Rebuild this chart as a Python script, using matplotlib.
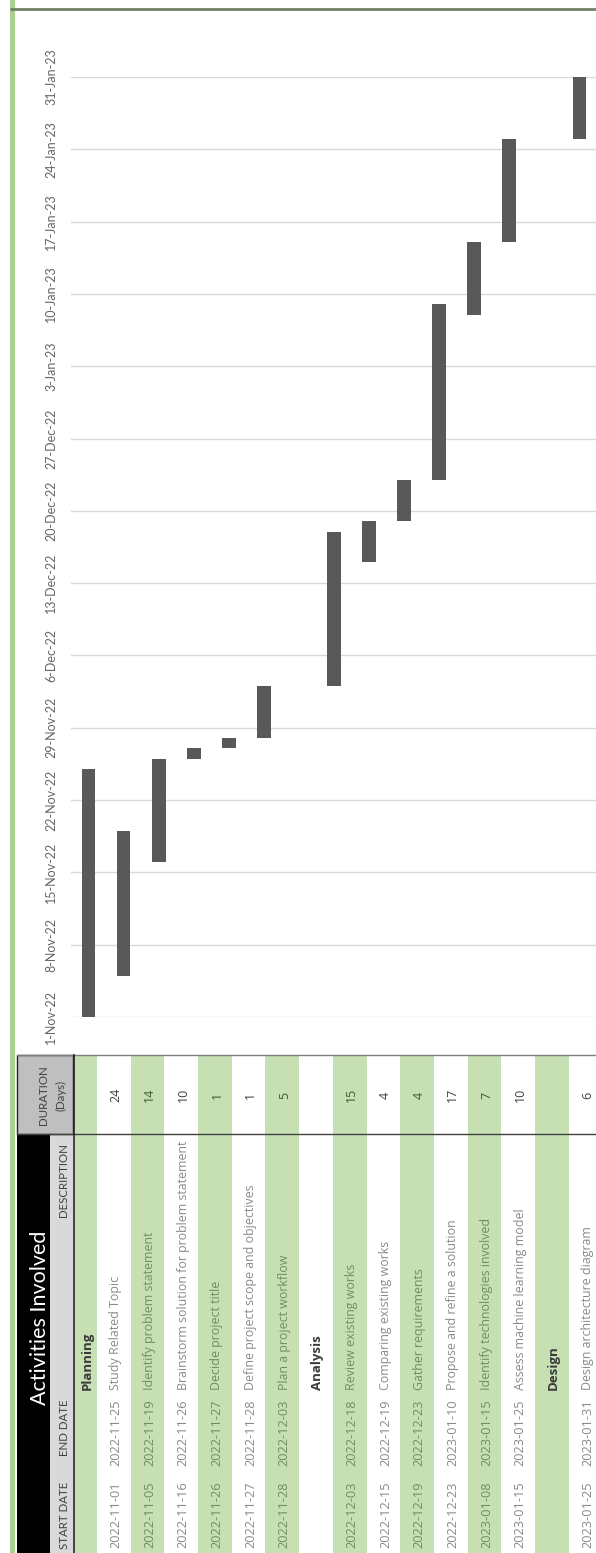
import datetime as dt
import matplotlib
matplotlib.use("Agg")
import matplotlib.pyplot as plt
import matplotlib.dates as mdates
from matplotlib.patches import Rectangle

# table rows (section rows carry no dates)
row_labels = ["Planning", "Study Related Topic", "Identify problem statement",
              "Brainstorm solution for problem statement", "Decide project title",
              "Define project scope and objectives", "Plan a project workflow",
              "Analysis", "Review existing works", "Comparing existing works",
              "Gather requirements", "Propose and refine a solution",
              "Identify technologies involved", "Assess machine learning model",
              "Design", "Design architecture diagram"]
start_dates = [None, "2022-11-01", "2022-11-05", "2022-11-16", "2022-11-26", "2022-11-27",
               "2022-11-28", None, "2022-12-03", "2022-12-15", "2022-12-19", "2022-12-23",
               "2023-01-08", "2023-01-15", None, "2023-01-25"]
end_dates = [None, "2022-11-25", "2022-11-19", "2022-11-26", "2022-11-27", "2022-11-28",
             "2022-12-03", None, "2022-12-18", "2022-12-19", "2022-12-23", "2023-01-10",
             "2023-01-15", "2023-01-25", None, "2023-01-31"]
durations = [None, 24, 14, 10, 1, 1, 5, None, 15, 4, 4, 17, 7, 10, None, 6]
section_rows = ["Planning", "Analysis", "Design"]

tick_labels = ["1-Nov-22", "8-Nov-22", "15-Nov-22", "22-Nov-22", "29-Nov-22", "6-Dec-22",
               "13-Dec-22", "20-Dec-22", "27-Dec-22", "3-Jan-23", "10-Jan-23", "17-Jan-23",
               "24-Jan-23", "31-Jan-23"]

GREEN = "#c6e0b4"
W, H = 596, 1553

fig = plt.figure(figsize=(W / 100, H / 100), dpi=100)
fig.patch.set_facecolor("white")

# background / table layer in pixel coordinates
bg = fig.add_axes([0, 0, 1, 1])
bg.set_xlim(0, W)
bg.set_ylim(H, 0)
bg.axis("off")

bg.add_patch(Rectangle((10, 0), 5, H, color="#a9d08e", lw=0))
bg.plot([10, W], [9, 9], color="#6e8268", lw=2.0, solid_capstyle="butt")

# table rows
x0 = 75
widths = [22] + [33.7] * (len(row_labels) - 1)
y_top, y_dur = 1055, 1134
edges = [x0]
for w in widths:
    edges.append(edges[-1] + w)

for i, label in enumerate(row_labels):
    xa, xb = edges[i], edges[i + 1]
    xc = (xa + xb) / 2
    green = i % 2 == 0
    if green:
        bg.add_patch(Rectangle((xa, y_top), xb - xa, H - y_top, color=GREEN, lw=0))
    txt = "#6f8f5f" if green else "#8a8a8a"
    num = "#3d5a2f" if green else "#404040"
    if label in section_rows:
        bg.text(xc + 1, 1390, label, rotation=90, ha="center", va="bottom",
                fontsize=9.5, fontweight="bold", color="#3a3a3a", family="Open Sans")
        continue
    bg.text(xc + 2, 1515, start_dates[i], rotation=90, ha="center", va="center",
            fontsize=9.2, color=txt, family="Open Sans")
    bg.text(xc + 2, 1433, end_dates[i], rotation=90, ha="center", va="center",
            fontsize=9.2, color=txt, family="Open Sans")
    bg.text(xc + 2, 1390, label, rotation=90, ha="center", va="bottom",
            fontsize=8.9, color=txt, family="Open Sans")
    bg.text(xc + 2, 1095, str(durations[i]), rotation=90, ha="center", va="center",
            fontsize=9, color=num, family="Open Sans")

# header block
bg.add_patch(Rectangle((17, y_dur), 33, H - y_dur, color="black", lw=0))
bg.add_patch(Rectangle((50, y_dur), 23, H - y_dur, color="#d9d9d9", lw=0))
bg.add_patch(Rectangle((17, y_top), 56, y_dur - y_top, facecolor="#bfbfbf",
                       edgecolor="#222222", lw=1.0))
bg.plot([17, W], [y_top, y_top], color="#7f7f7f", lw=1.0)
bg.plot([17, W], [y_dur, y_dur], color="#404040", lw=1.0)
bg.plot([73.5, 73.5], [y_top, H], color="#222222", lw=1.2)

bg.text(40, 1318, "Activities Involved", rotation=90, ha="center", va="center",
        fontsize=15.5, color="white", family="Lato")
hdr = dict(rotation=90, ha="center", fontsize=8.3, color="#404040", family="Lato")
bg.text(64, 1515, "START DATE", va="center", **hdr)
bg.text(64, 1428, "END DATE", va="center", **hdr)
bg.text(64, 1143, "DESCRIPTION", va="top", **hdr)
bg.text(44, 1095, "DURATION", va="center", **hdr)
bg.text(61, 1095, "(Days)", va="center", **hdr)

# gantt chart
ax = fig.add_axes([71 / W, (H - 1017) / H, (W + 1 - 71) / W, (1017 - 77) / H])
ax.patch.set_alpha(0)
tick_dates = [dt.datetime.strptime(t, "%d-%b-%y") for t in tick_labels]
tick_nums = mdates.date2num(tick_dates)

for i in range(1, len(row_labels)):
    if durations[i] is None:
        continue
    s = mdates.date2num(dt.datetime.strptime(start_dates[i], "%Y-%m-%d"))
    ax.bar(i - 1, durations[i], bottom=s, width=0.39, color="#595959", zorder=3)

ax.set_xlim(-0.5, len(row_labels) - 1.5)
ax.set_ylim(tick_nums[0], tick_nums[-1])
ax.set_yticks(tick_nums)
ax.set_yticklabels(tick_labels, rotation=90, va="center", fontsize=9,
                   color="#666666", family="Lato")
ax.set_xticks([])
ax.tick_params(axis="y", length=0, pad=10)
ax.yaxis.grid(True, color="#d9d9d9", lw=1.0)
ax.set_axisbelow(True)
for sp in ax.spines.values():
    sp.set_visible(False)

fig.savefig("out.png", dpi=100, facecolor="white")
